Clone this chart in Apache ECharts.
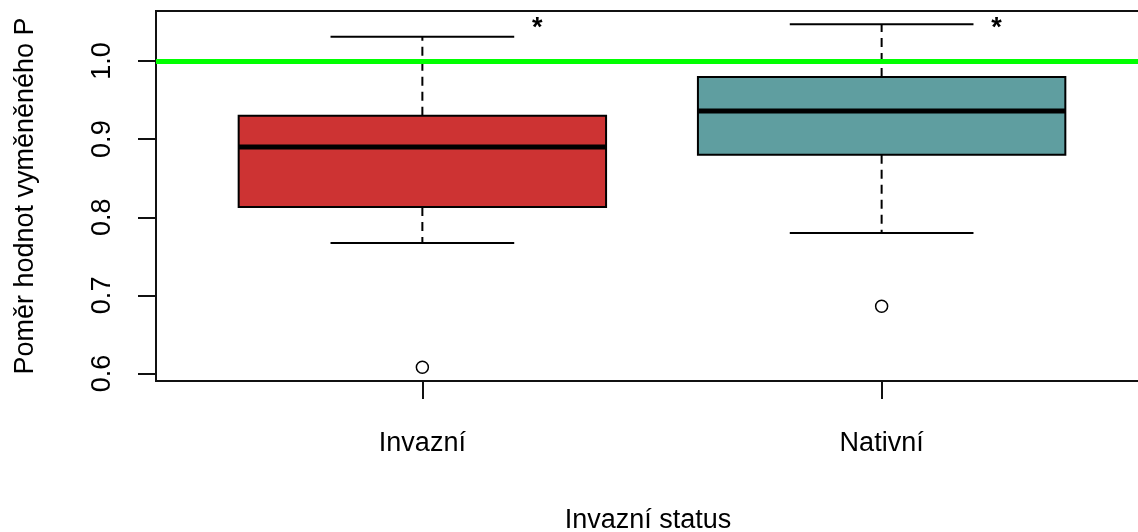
<!DOCTYPE html>
<html>
<head>
<meta charset="utf-8">
<script src="https://cdn.jsdelivr.net/npm/echarts@6/dist/echarts.min.js"></script>
<style>
  html, body { margin: 0; padding: 0; background: #fff; }
  #chart { width: 1138px; height: 532px; }
</style>
</head>
<body>
<div id="chart"></div>
<script>
// Group names along the x axis
const categories = ['Invazní', 'Nativní'];
// Five-number summaries per group
const lowerWhisker = [0.767, 0.780];
const q1 = [0.813, 0.880];
const median = [0.890, 0.936];
const q3 = [0.930, 0.9795];
const upperWhisker = [1.031, 1.047];
// Points beyond the whiskers
const outliers = [[0.608], [0.686]];
// Significance marks placed beside each upper whisker
const significance = ['*', '*'];
const significanceLevel = 1.05;
// Reference ratio
const referenceValue = 1.0;
// Y axis tick labels
const yTicks = [0.6, 0.7, 0.8, 0.9, 1.0];

const fillColors = ['#CD3333', '#5F9EA0'];
const FONT = "'Liberation Sans', Arial, sans-serif";

const boxData = categories.map((c, i) => [i + 1, lowerWhisker[i], q1[i], median[i], q3[i], upperWhisker[i]]);
const outlierData = [];
outliers.forEach((vals, i) => vals.forEach(v => outlierData.push([i + 1, v])));

function renderBox(params, api) {
  const idx = params.dataIndex;
  const x = api.value(0);
  const lo = api.coord([x, api.value(1)]);
  const b1 = api.coord([x, api.value(2)]);
  const md = api.coord([x, api.value(3)]);
  const b3 = api.coord([x, api.value(4)]);
  const hi = api.coord([x, api.value(5)]);
  const cx = lo[0];
  const halfBox = api.size([0.4, 0])[0];
  const halfCap = api.size([0.2, 0])[0];
  const star = api.coord([x + 0.25, significanceLevel]);
  const lineStyle = { stroke: '#000', lineWidth: 2 };
  const dashStyle = { stroke: '#000', lineWidth: 2, lineDash: [9, 6] };
  return {
    type: 'group',
    children: [
      { type: 'line', shape: { x1: cx, y1: b3[1], x2: cx, y2: hi[1] }, style: dashStyle },
      { type: 'line', shape: { x1: cx, y1: b1[1], x2: cx, y2: lo[1] }, style: dashStyle },
      { type: 'line', shape: { x1: cx - halfCap, y1: hi[1], x2: cx + halfCap, y2: hi[1] }, style: lineStyle },
      { type: 'line', shape: { x1: cx - halfCap, y1: lo[1], x2: cx + halfCap, y2: lo[1] }, style: lineStyle },
      { type: 'rect', shape: { x: cx - halfBox, y: b3[1], width: 2 * halfBox, height: b1[1] - b3[1] },
        style: { fill: fillColors[idx], stroke: '#000', lineWidth: 2 } },
      { type: 'line', shape: { x1: cx - halfBox, y1: md[1], x2: cx + halfBox, y2: md[1] },
        style: { stroke: '#000', lineWidth: 5 } },
      { type: 'text', x: star[0], y: star[1] + 7,
        style: { text: significance[idx], font: 'bold 27px ' + FONT, fill: '#000', align: 'center', verticalAlign: 'middle' } }
    ]
  };
}

const chart = echarts.init(document.getElementById('chart'), null, { renderer: 'canvas' });
chart.setOption({
  animation: false,
  backgroundColor: '#fff',
  // the plotting region runs a little past the right edge of the canvas
  grid: {
    left: 156, top: 11, width: 992, height: 370,
    outerBoundsMode: 'none', containLabel: false,
    show: true, borderColor: '#111', borderWidth: 2, backgroundColor: 'transparent'
  },
  xAxis: {
    type: 'value', min: 0.42, max: 2.58,
    name: 'Invazní status', nameLocation: 'middle', nameGap: 126,
    nameTextStyle: { fontFamily: FONT, fontSize: 27, color: '#000', padding: [0, 8, 0, 0] },
    axisLine: { show: false },
    splitLine: { show: false },
    axisTick: { show: true, length: 18, customValues: [1, 2], lineStyle: { color: '#111', width: 2 } },
    axisLabel: { customValues: [1, 2], margin: 49, fontFamily: FONT, fontSize: 27, color: '#000',
      formatter: v => categories[Math.round(v) - 1] }
  },
  yAxis: {
    type: 'value', min: 0.5904, max: 1.064,
    name: 'Poměr hodnot vyměněného P', nameLocation: 'middle', nameGap: 117, nameRotate: 90,
    nameTextStyle: { fontFamily: FONT, fontSize: 27, color: '#000' },
    axisLine: { show: false },
    splitLine: { show: false },
    axisTick: { show: true, length: 18, customValues: yTicks, lineStyle: { color: '#111', width: 2 } },
    axisLabel: { customValues: yTicks, rotate: 90, margin: 40, fontFamily: FONT, fontSize: 27, color: '#000',
      formatter: v => v.toFixed(1) }
  },
  series: [
    {
      type: 'scatter', z: 1,
      data: outlierData,
      symbol: 'circle', symbolSize: 12,
      itemStyle: { color: '#fff', borderColor: '#000', borderWidth: 1.5, opacity: 1 },
      emphasis: { disabled: true },
      markLine: {
        silent: true, symbol: 'none', label: { show: false },
        lineStyle: { color: '#00FF00', width: 5, type: 'solid' },
        data: [{ yAxis: referenceValue }]
      }
    },
    {
      type: 'custom', z: 2,
      renderItem: renderBox,
      data: boxData,
      encode: { x: 0, y: [1, 2, 3, 4, 5] }
    }
  ]
});
</script>
</body>
</html>
